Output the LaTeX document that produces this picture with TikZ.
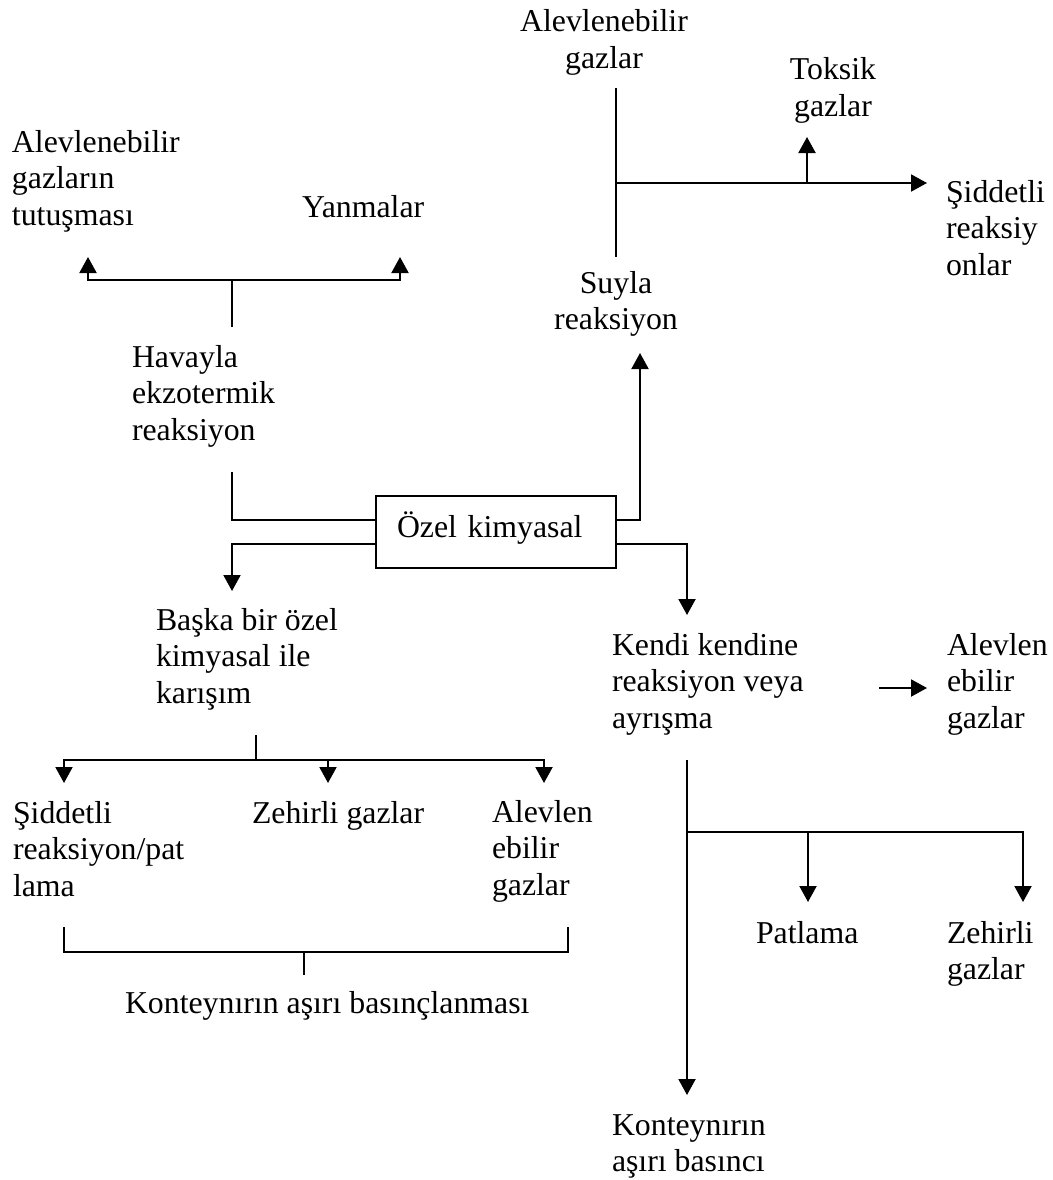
\documentclass[tikz,border=0pt]{standalone}
\usepackage{fontspec}
\setmainfont{Liberation Serif}
\usetikzlibrary{arrows.meta}
% first-line strut: every text block starts 30pt above its first baseline
\newcommand\lnstrut{\rule{0pt}{30pt}}
\begin{document}
\begin{tikzpicture}[x=1pt,y=-1pt,
  every node/.style={inner sep=0pt, outer sep=0pt, font=\fontsize{31.8}{36.7}\selectfont},
  txt/.style={anchor=north west, align=left},
  ctxt/.style={anchor=north, align=center},
  ln/.style={line width=2pt},
  arr/.style={line width=2pt, -{Triangle[length=16pt,width=17pt]}}
]
\useasboundingbox (0,0) rectangle (1052,1180);

% central box
\node[draw, line width=2pt, minimum width=240pt, minimum height=72pt,
      text width=198pt, inner xsep=21pt, align=left,
      text height=20pt, text depth=10pt] (ozel) at (496,532) {Özel kimyasal};

% labels
\node[txt]  (ag)    at (12,122)  {\lnstrut Alevlenebilir\\gazların\\tutuşması};
\node[txt]  (yan)   at (302,187) {\lnstrut Yanmalar};
\node[txt]  (hav)   at (132,337) {\lnstrut Havayla\\ekzotermik\\reaksiyon};
\node[ctxt] (topag) at (604,2)   {\lnstrut Alevlenebilir\\gazlar};
\node[ctxt] (tok)   at (833,50)  {\lnstrut Toksik\\gazlar};
\node[txt]  (sid1)  at (946,172) {\lnstrut Şiddetli\\reaksiy\\onlar};
\node[ctxt] (suy)   at (616,263) {\lnstrut Suyla\\reaksiyon};
\node[txt]  (bas)   at (156,600) {\lnstrut Başka bir özel\\kimyasal ile\\karışım};
\node[txt]  (kendi) at (612,625) {\lnstrut Kendi kendine\\reaksiyon veya\\ayrışma};
\node[txt]  (alv2)  at (947,625) {\lnstrut Alevlen\\ebilir\\gazlar};
\node[txt]  (sid2)  at (13,793)  {\lnstrut Şiddetli\\reaksiyon/pat\\lama};
\node[txt]  (zeh1)  at (252,793) {\lnstrut Zehirli gazlar};
\node[txt]  (alv1)  at (492,792) {\lnstrut Alevlen\\ebilir\\gazlar};
\node[txt]  (kon1)  at (125,983) {\lnstrut Konteynırın aşırı basınçlanması};
\node[txt]  (pat)   at (756,913) {\lnstrut Patlama};
\node[txt]  (zeh2)  at (947,913) {\lnstrut Zehirli\\gazlar};
\node[txt]  (kon2)  at (612,1105){\lnstrut Konteynırın\\aşırı basıncı};

% junctions and free ends
\coordinate (t1s) at (232,327); \coordinate (t1j) at (232,280);
\coordinate (t1l) at (88,257);  \coordinate (t1r) at (400,257);
\coordinate (h1) at (232,472);  \coordinate (b1) at (232,591);
\coordinate (s1) at (640,353);  \coordinate (k1) at (687,615);
\coordinate (w1) at (616,88);   \coordinate (w2) at (616,257);
\coordinate (wj) at (616,183);  \coordinate (wr) at (927,183);
\coordinate (tj) at (807,183);  \coordinate (tt) at (807,137);
\coordinate (m0) at (256,735);  \coordinate (mj) at (256,760);
\coordinate (ma) at (64,783);   \coordinate (mb) at (328,783);
\coordinate (mc) at (544,783);
\coordinate (q1) at (64,927);   \coordinate (q2) at (568,927);
\coordinate (qj) at (304,952);  \coordinate (q3) at (304,975);
\coordinate (ka) at (879,688);  \coordinate (kb) at (927,688);
\coordinate (v0) at (687,760);  \coordinate (v1) at (687,1095);
\coordinate (vj) at (687,832);  \coordinate (vp) at (808,902);
\coordinate (vz) at (1023,902);

% air reaction branch
\draw[ln] (t1s) -- (t1j);
\draw[arr] (t1j) -| (t1l);
\draw[arr] (t1j) -| (t1r);
\draw[ln] ([yshift=12pt]ozel.west) -| (h1);

% mixing branch
\draw[arr] ([yshift=-12pt]ozel.west) -| (b1);
\draw[ln] (m0) -- (mj);
\draw[arr] (mj) -| (ma);
\draw[arr] (mj) -| (mb);
\draw[arr] (mj) -| (mc);
\draw[ln] (q1) |- (qj) -| (q2);
\draw[ln] (qj) -- (q3);

% water reaction branch
\draw[arr] ([yshift=12pt]ozel.east) -| (s1);
\draw[ln] (w1) -- (w2);
\draw[arr] (wj) -- (wr);
\draw[arr] (tj) -- (tt);

% self reaction branch
\draw[arr] ([yshift=-12pt]ozel.east) -| (k1);
\draw[arr] (ka) -- (kb);
\draw[arr] (v0) -- (v1);
\draw[arr] (vj) -| (vp);
\draw[arr] (vj) -| (vz);
\end{tikzpicture}
\end{document}
